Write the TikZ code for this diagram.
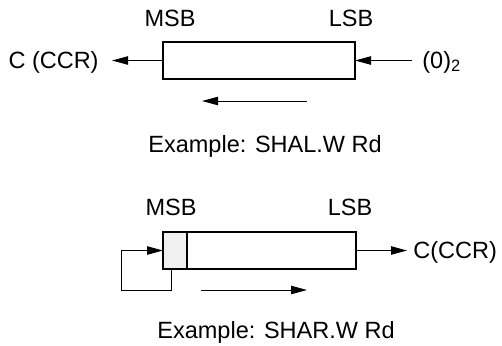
\documentclass[tikz,border=0pt]{standalone}
\usepackage{fontspec}
\setmainfont{Liberation Sans}
\usetikzlibrary{arrows.meta, positioning}
\tikzset{
  regbox/.style={
    rectangle, draw=black, line width=0.9pt, fill=white,
    inner sep=0pt, outer sep=0pt, minimum height=18.5pt
  },
  msbcell/.style={
    rectangle, draw=black, line width=0.9pt, fill=black!6,
    inner sep=0pt, outer sep=0pt, minimum width=12pt, minimum height=18.5pt
  },
  lbl/.style={font=\fontsize{11.75}{14}\selectfont, inner sep=0pt},
  sig/.style={-{Triangle[length=8pt, width=4.2pt]}, line width=0.5pt, draw=black}
}
\begin{document}
\begin{tikzpicture}[x=0.5pt, y=-0.5pt]
\useasboundingbox (0,0) rectangle (502,345);

% SHAL: shift left
\node[regbox, minimum width=96pt] (reg1) at (259,60.5) {};
\node[lbl, anchor=base] (msb1) at (170,26) {MSB};
\node[lbl, anchor=base] (lsb1) at (351,26) {LSB};
\node[lbl, anchor=base east] (c1) at (99,68) {C (CCR)};
\node[lbl, anchor=base west] (zero) at (422,68) {(0)\textsubscript{2}};
\draw[sig, shorten >=6.5pt] (reg1.west) -- (c1.east |- reg1.west);
\draw[sig, shorten <=5pt] (zero.west |- reg1.east) -- (reg1.east);
\coordinate (dir1a) at (307,101);
\coordinate (dir1b) at (202,101);
\draw[sig] (dir1a) -- (dir1b);
\node[lbl, anchor=base west] (ex1) at (148,152) {Example: SHAL.W Rd};

% SHAR: shift right, MSB kept
\node[regbox, minimum width=96.5pt] (reg2) at (259.5,250.5) {};
\node[msbcell] (cell) at (175,250.5) {};
\node[lbl, anchor=base] (msb2) at (171,215) {MSB};
\node[lbl, anchor=base] (lsb2) at (350,215) {LSB};
\node[lbl, anchor=base west] (c2) at (413,258) {C(CCR)};
\draw[sig, shorten >=3pt] (reg2.east) -- (c2.west |- reg2.east);
\coordinate (fb) at (121,290);
\draw[line width=0.5pt] ([xshift=-2pt]cell.south) |- (fb);
\draw[sig] (fb) |- (cell.west);
\coordinate (dir2a) at (201,290);
\coordinate (dir2b) at (307,290);
\draw[sig] (dir2a) -- (dir2b);
\node[lbl, anchor=base west] (ex2) at (157,338.5) {Example: SHAR.W Rd};
\end{tikzpicture}
\end{document}
